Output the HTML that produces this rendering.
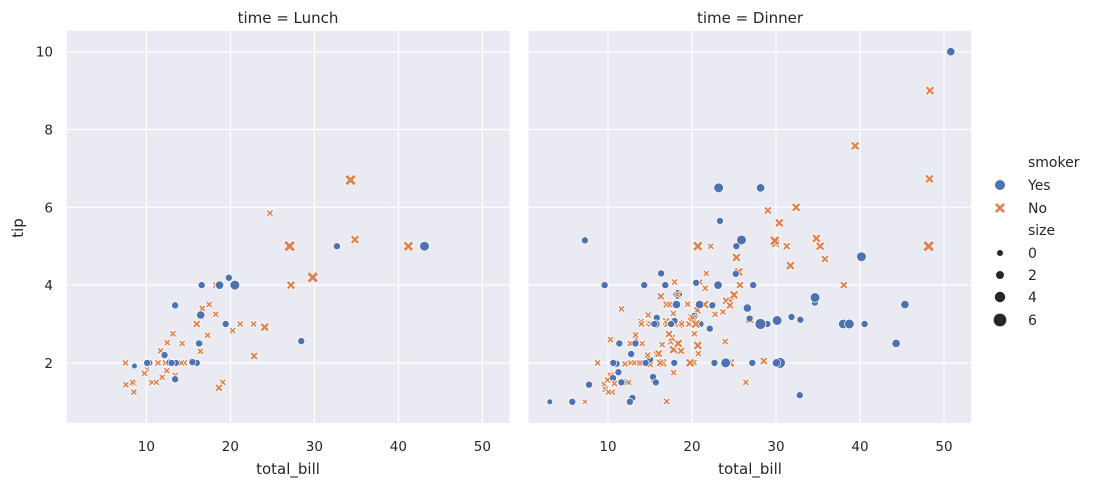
<!DOCTYPE html>
<html><head><meta charset="utf-8"><style>
body{margin:0;background:#fff;}
svg{display:block;font-family:"DejaVu Sans","Liberation Sans",sans-serif;}
</style></head><body>
<svg id="s" width="1098" height="483" xmlns="http://www.w3.org/2000/svg">
<rect x="67" y="31" width="442.6" height="392" fill="#eaeaf2"/>
<rect x="528.6" y="31" width="442.6" height="392" fill="#eaeaf2"/>
<g id="grid" stroke="#fff" stroke-width="1.2"></g>
<g id="pts"></g>
<g fill="#262626" font-size="14">
<text x="288" y="23" text-anchor="middle" font-size="15">time = Lunch</text>
<text x="750" y="23" text-anchor="middle" font-size="15">time = Dinner</text>
<text x="288" y="474" text-anchor="middle" font-size="15">total_bill</text>
<text x="750" y="474" text-anchor="middle" font-size="15">total_bill</text>
<text transform="translate(23,228) rotate(-90)" text-anchor="middle" font-size="15">tip</text>
<g id="ticks" font-size="13.5"></g>
<text x="1028" y="167">smoker</text>
<circle cx="1000" cy="185" r="5" fill="#4c72b0"/>
<text x="1028" y="190">Yes</text>
<text x="1028" y="213">No</text>
<text x="1028" y="235">size</text>
<circle cx="1000" cy="253" r="3" fill="#262626"/><text x="1028" y="258">0</text>
<circle cx="1000" cy="275" r="4" fill="#262626"/><text x="1028" y="280">2</text>
<circle cx="1000" cy="297" r="5.2" fill="#262626"/><text x="1028" y="302">4</text>
<circle cx="1000" cy="320" r="6.4" fill="#262626"/><text x="1028" y="325">6</text>
</g>
<g id="leg"></g>
</svg>
<script>
var NS="http://www.w3.org/2000/svg";
function el(p,t,a){var e=document.createElementNS(NS,t);for(var k in a)e.setAttribute(k,a[k]);p.appendChild(e);return e;}
function X(v){return 146.4+(v-10)*8.4;}
function Y(v){return 51.7-(v-10)*38.9;}
var g=document.getElementById('grid'),tk=document.getElementById('ticks');
[0,461.6].forEach(function(o){
 [10,20,30,40,50].forEach(function(v){el(g,'line',{x1:X(v)+o,x2:X(v)+o,y1:31,y2:423});
  var t=el(tk,'text',{x:X(v)+o,y:451,'text-anchor':'middle'});t.textContent=v;});
 [2,4,6,8,10].forEach(function(v){el(g,'line',{x1:o?528.6:67,x2:o?971.2:509.6,y1:Y(v),y2:Y(v)});});
});
[2,4,6,8,10].forEach(function(v){var t=el(tk,'text',{x:53,y:Y(v)+5,'text-anchor':'end'});t.textContent=v;});
function xm(p,cx,cy,r,fill){
 var a=r*0.45,b=r;
 var pts=[[-b,-b+a],[-b+a,-b],[0,-a],[b-a,-b],[b,-b+a],[a,0],[b,b-a],[b-a,b],[0,a],[-b+a,b],[-b,b-a],[-a,0]];
 el(p,'polygon',{points:pts.map(function(q){return (cx+q[0]*0.85)+','+(cy+q[1]*0.85)}).join(' '),fill:fill,stroke:'#fff','stroke-width':0.7});
}
xm(document.getElementById('leg'),1000,208,6.5,'#dd8452');
var d="16.99,1.01,N,2,D;10.34,1.66,N,3,D;21.01,3.5,N,3,D;23.68,3.31,N,2,D;24.59,3.61,N,4,D;25.29,4.71,N,4,D;8.77,2,N,2,D;26.88,3.12,N,4,D;15.04,1.96,N,2,D;14.78,3.23,N,2,D;10.27,1.71,N,2,D;35.26,5,N,4,D;15.42,1.57,N,2,D;18.43,3,N,4,D;14.83,3.02,N,2,D;21.58,3.92,N,2,D;10.33,1.67,N,3,D;16.29,3.71,N,3,D;16.97,3.5,N,3,D;20.65,3.35,N,3,D;17.92,4.08,N,2,D;20.29,2.75,N,2,D;15.77,2.23,N,2,D;39.42,7.58,N,4,D;19.82,3.18,N,2,D;17.81,2.34,N,4,D;13.37,2,N,2,D;12.69,2,N,2,D;21.7,4.3,N,2,D;19.65,3,N,2,D;9.55,1.45,N,2,D;18.35,2.5,N,4,D;15.06,3,N,2,D;20.69,2.45,N,4,D;17.78,3.27,N,2,D;24.06,3.6,N,3,D;16.31,2,N,3,D;16.93,3.07,N,3,D;18.69,2.31,N,3,D;31.27,5,N,3,D;16.04,2.24,N,3,D;17.46,2.54,N,2,D;13.94,3.06,N,2,D;9.68,1.32,N,2,D;30.4,5.6,N,4,D;18.29,3,N,2,D;22.23,5,N,2,D;32.4,6,N,4,D;28.55,2.05,N,3,D;18.04,3,N,2,D;12.54,2.5,N,2,D;10.29,2.6,N,2,D;34.81,5.2,N,4,D;9.94,1.56,N,2,D;25.56,4.34,N,4,D;19.49,3.51,N,2,D;38.01,3,Y,4,D;26.41,1.5,N,2,D;11.24,1.76,Y,2,D;48.27,6.73,N,4,D;20.29,3.21,Y,2,D;13.81,2,Y,2,D;11.02,1.98,Y,2,D;18.29,3.76,Y,4,D;17.59,2.64,N,3,D;20.08,3.15,N,3,D;16.45,2.47,N,2,D;3.07,1,Y,1,D;20.23,2.01,N,2,D;15.01,2.09,Y,2,D;12.02,1.97,N,2,D;17.07,3,N,3,D;26.86,3.14,Y,2,D;25.28,5,Y,2,D;14.73,2.2,N,2,D;10.51,1.25,N,2,D;17.92,3.08,Y,2,D;27.2,4,N,4,L;22.76,3,N,2,L;17.29,2.71,N,2,L;19.44,3,Y,2,L;16.66,3.4,N,2,L;10.07,1.83,N,1,L;32.68,5,Y,2,L;15.98,2.03,N,2,L;34.83,5.17,N,4,L;13.03,2,N,2,L;18.28,4,N,2,L;24.71,5.85,N,2,L;21.16,3,N,2,L;28.97,3,Y,2,D;22.49,3.5,N,2,D;5.75,1,Y,2,D;16.32,4.3,Y,2,D;22.75,3.25,N,2,D;40.17,4.73,Y,4,D;27.28,4,Y,2,D;12.03,1.5,Y,2,D;21.01,3,Y,2,D;12.46,1.5,N,2,D;11.35,2.5,Y,2,D;15.38,3,Y,2,D;44.3,2.5,Y,3,D;22.42,3.48,Y,2,D;20.92,4.08,N,2,D;15.36,1.64,Y,2,D;20.49,4.06,Y,2,D;25.21,4.29,Y,2,D;18.24,3.76,N,2,D;14.31,4,Y,2,D;14,3,N,2,D;7.25,1,N,1,D;38.07,4,N,3,D;23.95,2.55,N,2,D;25.71,4,N,3,D;17.31,3.5,N,2,D;29.93,5.07,N,4,D;10.65,1.5,N,2,L;12.43,1.8,N,2,L;24.08,2.92,N,4,L;11.69,2.31,N,2,L;13.42,1.68,N,2,L;14.26,2.5,N,2,L;15.95,2,N,2,L;12.48,2.52,N,2,L;29.8,4.2,N,6,L;8.52,1.48,N,2,L;14.52,2,N,2,L;11.38,2,N,2,L;22.82,2.18,N,3,L;19.08,1.5,N,2,L;20.27,2.83,N,2,L;11.17,1.5,N,2,L;12.26,2,N,2,L;18.26,3.25,N,2,L;8.51,1.25,N,2,L;10.33,2,N,2,L;14.15,2,N,2,L;16,2,Y,2,L;13.16,2.75,N,2,L;17.47,3.5,N,2,L;34.3,6.7,N,6,L;41.19,5,N,5,L;27.05,5,N,6,L;16.43,2.3,N,2,L;8.35,1.5,N,2,L;18.64,1.36,N,3,L;11.87,1.63,N,2,L;9.78,1.73,N,2,L;7.51,2,N,2,L;14.07,2.5,N,2,D;13.13,2,N,2,D;17.26,2.74,N,3,D;24.55,2,N,4,D;19.77,2,N,4,D;29.85,5.14,N,5,D;48.17,5,N,6,D;25,3.75,N,4,D;13.39,2.61,N,2,D;16.49,2,N,4,D;21.5,3.5,N,4,D;12.66,2.5,N,2,D;16.21,2,N,3,D;13.81,2,N,2,D;17.51,3,Y,2,D;24.52,3.48,N,3,D;20.76,2.24,N,2,D;31.71,4.5,N,4,D;10.59,1.61,Y,2,D;10.63,2,Y,2,D;50.81,10,Y,3,D;15.81,3.16,Y,2,D;7.25,5.15,Y,2,D;31.85,3.18,Y,2,D;16.82,4,Y,2,D;32.9,3.11,Y,2,D;17.89,2,Y,2,D;14.48,2,Y,2,D;9.6,4,Y,2,D;34.63,3.55,Y,2,D;34.65,3.68,Y,4,D;23.33,5.65,Y,2,D;45.35,3.5,Y,3,D;23.17,6.5,Y,4,D;40.55,3,Y,2,D;20.69,5,N,5,D;20.9,3.5,Y,3,D;30.46,2,Y,5,D;18.15,3.5,Y,3,D;23.1,4,Y,3,D;15.69,1.5,Y,2,D;19.81,4.19,Y,2,L;28.44,2.56,Y,2,L;15.48,2.02,Y,2,L;16.58,4,Y,2,L;7.56,1.44,N,2,L;10.34,2,Y,2,L;43.11,5,Y,4,L;13,2,Y,2,L;13.51,2,Y,2,L;18.71,4,Y,3,L;12.74,2.01,Y,2,L;13,2,Y,2,L;16.4,2.5,Y,2,L;20.53,4,Y,4,L;16.47,3.23,Y,3,L;26.59,3.41,Y,3,D;38.73,3,Y,4,D;24.27,2.03,Y,2,D;12.76,2.23,Y,2,D;30.06,2,Y,3,D;25.89,5.16,Y,4,D;48.33,9,N,4,D;13.27,2.5,Y,2,D;28.17,6.5,Y,3,D;12.9,1.1,Y,2,D;28.15,3,Y,5,D;11.59,1.5,Y,2,D;7.74,1.44,Y,2,D;30.14,3.09,Y,4,D;12.16,2.2,Y,2,L;13.42,3.48,Y,2,L;8.58,1.92,Y,1,L;15.98,3,N,3,L;13.42,1.58,Y,2,L;16.27,2.5,Y,2,L;10.09,2,Y,2,L;20.45,3,N,4,D;13.28,2.72,N,2,D;22.12,2.88,Y,2,D;24.01,2,Y,4,D;15.69,3,Y,3,D;11.61,3.39,N,2,D;10.77,1.47,N,2,D;15.53,3,Y,2,D;10.07,1.25,N,2,D;12.6,1,Y,2,D;32.83,1.17,Y,2,D;35.83,4.67,N,3,D;29.03,5.92,N,3,D;27.18,2,Y,2,D;22.67,2,Y,2,D;17.82,1.75,N,2,D;18.78,3,N,2,D";
var p=document.getElementById('pts');
d.split(';').forEach(function(r){var f=r.split(',');var x=+f[0],y=+f[1],s=+f[3];
 var cx=X(x)+(f[4]=='D'?461.6:0),cy=Y(y);var rad=2.9+(s-1)*0.65;
 if(f[2]=='Y')el(p,'circle',{cx:cx,cy:cy,r:rad,fill:'#4c72b0',stroke:'#fff','stroke-width':0.7});
 else xm(p,cx,cy,rad+0.7,'#dd8452');});
</script>
</body></html>
